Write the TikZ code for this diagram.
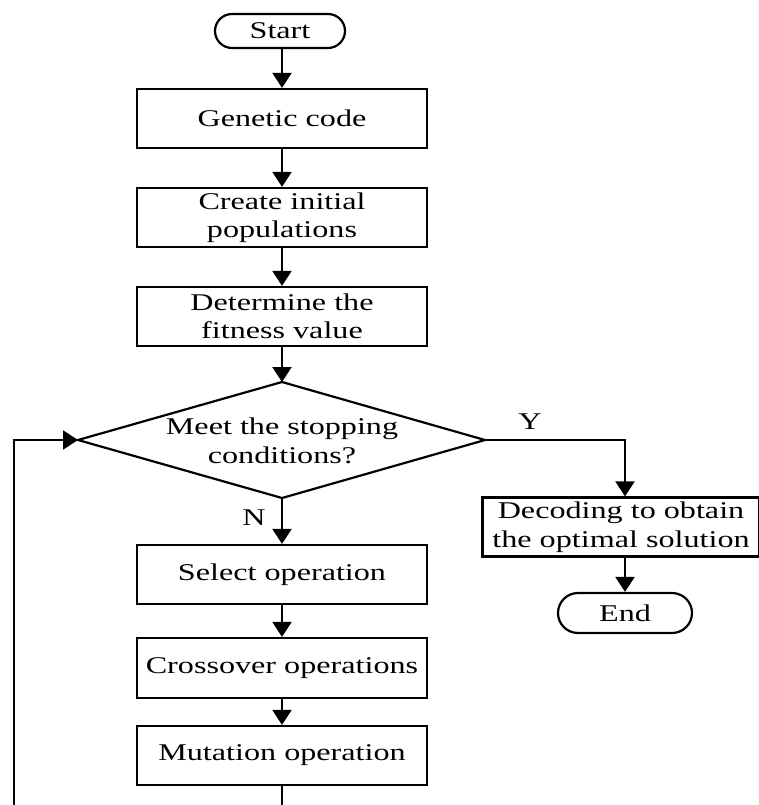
\documentclass[tikz,border=0pt]{standalone}
\usepackage{fontspec}
\setmainfont{Liberation Serif}[FakeStretch=1.34]
\usetikzlibrary{arrows.meta}
\begin{document}
\begin{tikzpicture}[x=1pt,y=-1pt,
  every node/.style={font=\fontsize{24}{28.5}\selectfont, inner sep=0pt, align=center},
  procbox/.style={draw, line width=2.2pt, minimum width=290pt, minimum height=59pt},
  termbox/.style={draw, line width=2.2pt, rounded corners=17pt, minimum width=130pt, minimum height=34pt},
  flow/.style={line width=2.2pt, -{Triangle[width=19pt,length=15pt]}},
  plain/.style={line width=2.2pt}]
\useasboundingbox (0,0) rectangle (759,805);
\node[termbox] (start) at (280,31) {Start};
\node[procbox] (gen) at (282,118.5) {Genetic code};
\node[procbox] (init) at (282,217.5) {Create initial\\populations};
\node[procbox] (fit) at (282,316.5) {Determine the\\fitness value};
\coordinate (dl) at (78,440);
\coordinate (dt) at (282,382);
\coordinate (dr) at (485,440);
\coordinate (db) at (282,498);
\draw[plain, line join=miter] (dl) -- (dt) -- (dr) -- (db) -- cycle;
\node (dectext) at (282,441) {Meet the stopping\\conditions?};
\node[procbox, minimum width=277pt] (decode) at (621,527) {Decoding to obtain\\the optimal solution};
\node[termbox, minimum width=134pt, minimum height=40pt, rounded corners=20pt] (end) at (625,613) {End};
\node[procbox] (sel) at (282,574.5) {Select operation};
\node[procbox, minimum height=60pt] (cross) at (282,668) {Crossover operations};
\node[procbox] (mut) at (282,755.5) {Mutation operation};
\node (ylab) at (530,422) {Y};
\node (nlab) at (254,518) {N};
\coordinate (yc) at (625,440);
\coordinate (mb) at (282,806);
\coordinate (lb) at (14,806);
\coordinate (lt) at (14,440);
\draw[flow] (start.south -| gen) -- (gen);
\draw[flow] (gen) -- (init);
\draw[flow] (init) -- (fit);
\draw[flow] (fit) -- (dt);
\draw[flow] (db) -- (sel);
\draw[flow] (dr) -- (yc) -- (decode.north -| yc);
\draw[flow] (decode.south -| end) -- (end);
\draw[flow] (sel) -- (cross);
\draw[flow] (cross) -- (mut);
\draw[plain] (mut) -- (mb);
\draw[flow] (lb) -- (lt) -- (dl);
\end{tikzpicture}
\end{document}
